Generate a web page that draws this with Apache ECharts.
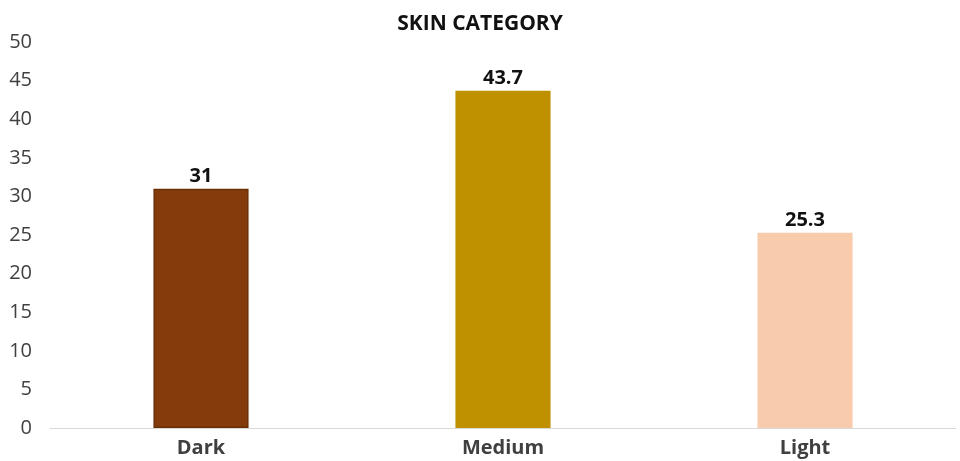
<!DOCTYPE html>
<html>
<head>
<meta charset="utf-8">
<script src="https://cdn.jsdelivr.net/npm/echarts@6/dist/echarts.min.js"></script>
<style>
  html, body { margin: 0; padding: 0; background: #ffffff; }
  #chart { width: 960px; height: 461px; }
</style>
</head>
<body>
<div id="chart"></div>
<script>
// Share of participants by skin category
const categories = ['Dark', 'Medium', 'Light'];
const values = [31, 43.7, 25.3];
const barColors = ['#843C0C', '#BF9000', '#F8CBAD'];
const barBorders = ['#6B2F08', '#BF9000', '#F8CBAD'];
const yTicks = { min: 0, max: 50, interval: 5 };

const chart = echarts.init(document.getElementById('chart'), null, { renderer: 'canvas' });

chart.setOption({
  backgroundColor: '#ffffff',
  animation: false,
  textStyle: { fontFamily: '"Open Sans", "DejaVu Sans", sans-serif' },
  title: {
    text: 'SKIN CATEGORY',
    left: 'center',
    top: 9,
    textStyle: { fontSize: 21, fontWeight: 'bold', color: '#111111', fontFamily: '"Open Sans", sans-serif' }
  },
  grid: { left: 50, right: 4, top: 42, bottom: 33, containLabel: false },
  xAxis: {
    type: 'category',
    data: categories,
    axisLine: { show: true, lineStyle: { color: '#D9D9D9', width: 1 } },
    axisTick: { show: false },
    axisLabel: { color: '#404040', fontSize: 20, fontWeight: 'bold', margin: 10 }
  },
  yAxis: {
    type: 'value',
    min: yTicks.min,
    max: yTicks.max,
    interval: yTicks.interval,
    splitLine: { show: false },
    axisLine: { show: false },
    axisTick: { show: false },
    axisLabel: { color: '#404040', fontSize: 20, margin: 18 }
  },
  series: [{
    type: 'bar',
    barWidth: '31.5%',
    data: values.map((v, i) => ({
      value: v,
      itemStyle: { color: barColors[i], borderColor: barBorders[i], borderWidth: 1.5 }
    })),
    label: {
      show: true,
      position: 'top',
      distance: 2,
      color: '#111111',
      fontSize: 20,
      fontWeight: 'bold'
    }
  }]
});
</script>
</body>
</html>
